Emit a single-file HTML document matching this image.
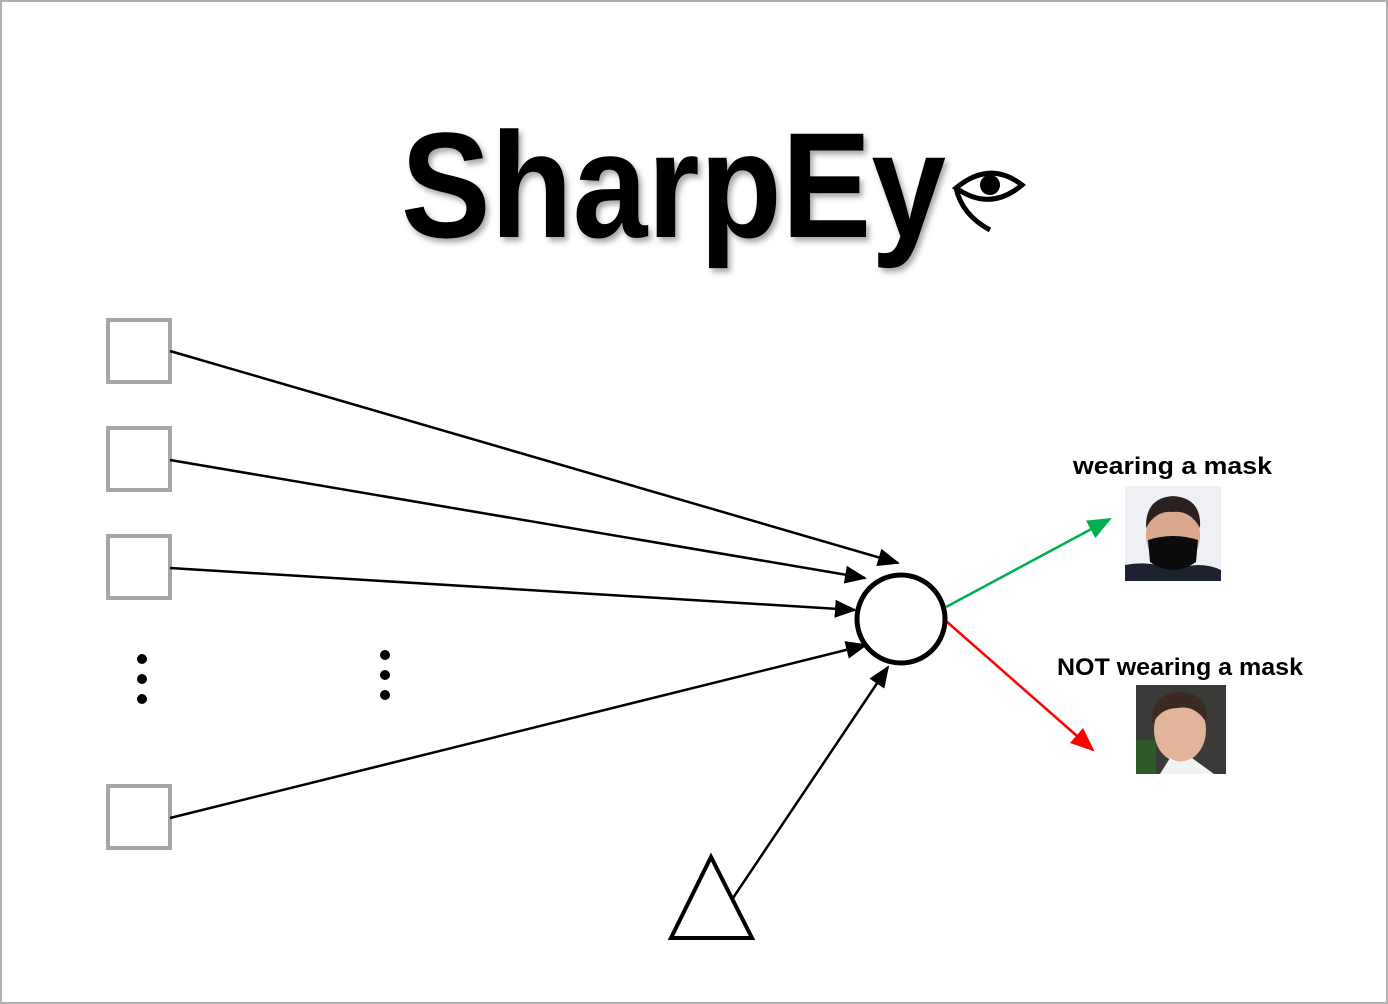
<!DOCTYPE html>
<html><head><style>
html,body{margin:0;padding:0;background:#fff;}
svg{display:block;}
</style></head><body>
<svg width="1388" height="1004" viewBox="0 0 1388 1004" xmlns="http://www.w3.org/2000/svg">
<defs>
<marker id="ag" markerWidth="24" markerHeight="20" refX="22" refY="10" orient="auto" markerUnits="userSpaceOnUse"><path d="M0,0 L24,10 L0,20 z" fill="#00b050"/></marker>
<marker id="ar" markerWidth="24" markerHeight="20" refX="22" refY="10" orient="auto" markerUnits="userSpaceOnUse"><path d="M0,0 L24,10 L0,20 z" fill="#ff0000"/></marker>
<marker id="ab" markerWidth="22" markerHeight="18" refX="20" refY="9" orient="auto" markerUnits="userSpaceOnUse"><path d="M0,0 L22,9 L0,18 z" fill="#000"/></marker>
<filter id="sh" x="-5%" y="-5%" width="110%" height="120%"><feDropShadow dx="3" dy="4" stdDeviation="3" flood-color="#000" flood-opacity="0.35"/></filter>
</defs>
<rect x="1" y="1" width="1386" height="1002" fill="#fff" stroke="#b0b0b0" stroke-width="2"/>
<text x="401" y="237" font-family="Liberation Sans, sans-serif" font-weight="bold" font-size="150" textLength="545" lengthAdjust="spacingAndGlyphs" filter="url(#sh)">SharpEy</text>
<g fill="none" stroke="#000">
<path d="M956,188 Q990,160 1022,185 Q990,212 956,188 z" stroke-width="5"/>
<path d="M956,188 Q962,215 990,230" stroke-width="5"/>
</g>
<circle cx="990" cy="185" r="10" fill="#000"/>
<g fill="none" stroke="#a6a6a6" stroke-width="4">
<rect x="108" y="320" width="62" height="62"/>
<rect x="108" y="428" width="62" height="62"/>
<rect x="108" y="536" width="62" height="62"/>
<rect x="108" y="786" width="62" height="62"/>
</g>
<g stroke="#000" stroke-width="2.5" fill="none">
<line x1="170" y1="351" x2="898" y2="563" marker-end="url(#ab)"/>
<line x1="170" y1="460" x2="865" y2="578" marker-end="url(#ab)"/>
<line x1="170" y1="568" x2="855" y2="610" marker-end="url(#ab)"/>
<line x1="170" y1="818" x2="866" y2="645" marker-end="url(#ab)"/>
<line x1="733" y1="898" x2="888" y2="667" marker-end="url(#ab)"/>
</g>
<line x1="946" y1="607" x2="1110" y2="519" stroke="#00b050" stroke-width="2.5" marker-end="url(#ag)"/>
<line x1="946" y1="621" x2="1093" y2="750" stroke="#ff0000" stroke-width="2.5" marker-end="url(#ar)"/>
<circle cx="901" cy="619" r="44" fill="#fff" stroke="#000" stroke-width="5"/>
<polygon points="711,857 671,938 752,938" fill="#fff" stroke="#000" stroke-width="4"/>
<g fill="#000">
<circle cx="142" cy="659" r="5"/><circle cx="142" cy="679" r="5"/><circle cx="142" cy="699" r="5"/>
<circle cx="385" cy="655" r="5"/><circle cx="385" cy="675" r="5"/><circle cx="385" cy="695" r="5"/>
</g>
<text x="1073" y="474" font-family="Liberation Sans, sans-serif" font-weight="bold" font-size="24" textLength="199" lengthAdjust="spacingAndGlyphs">wearing a mask</text>
<text x="1057" y="675" font-family="Liberation Sans, sans-serif" font-weight="bold" font-size="24" textLength="246" lengthAdjust="spacingAndGlyphs">NOT wearing a mask</text>
<!-- photo 1 -->
<rect x="1125" y="486" width="96" height="95" fill="#eef0f3"/>
<path d="M1125,581 L1125,565 Q1150,560 1173,570 Q1200,560 1221,570 L1221,581 z" fill="#1e2230"/>
<ellipse cx="1173" cy="535" rx="27" ry="33" fill="#d9a88a"/>
<path d="M1146,528 Q1145,498 1173,496 Q1202,498 1200,528 Q1190,510 1173,512 Q1156,510 1146,528 z" fill="#2a2220"/>
<path d="M1148,540 Q1173,532 1198,540 L1196,562 Q1173,578 1150,562 z" fill="#0b0b0b"/>
<!-- photo 2 -->
<rect x="1136" y="685" width="90" height="89" fill="#3a3a38"/>
<rect x="1136" y="740" width="20" height="34" fill="#2d5a28"/>
<ellipse cx="1180" cy="730" rx="26" ry="32" fill="#e2b49a"/>
<path d="M1152,725 Q1150,692 1182,692 Q1210,695 1206,722 Q1195,705 1178,708 Q1160,708 1152,725 z" fill="#3a2a22"/>
<path d="M1160,774 L1170,758 Q1180,765 1192,758 L1214,774 z" fill="#f2f2f2"/>
</svg>
</body></html>
